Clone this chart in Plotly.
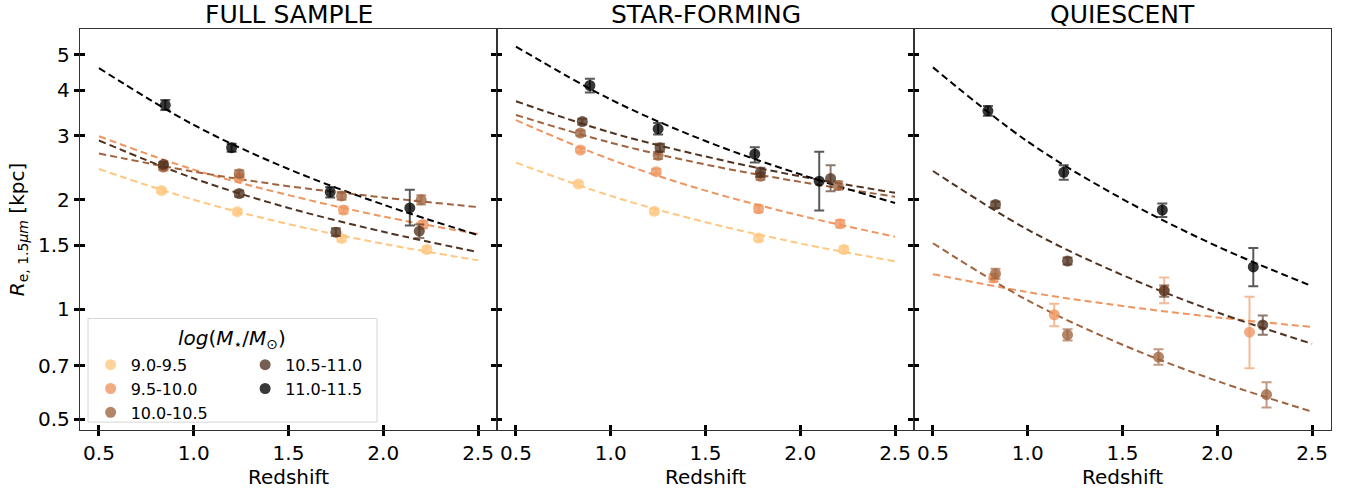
import plotly.graph_objects as go

# ---------------- data ----------------
bins = ["9.0-9.5", "9.5-10.0", "10.0-10.5", "10.5-11.0", "11.0-11.5"]
colors = ["rgb(255,199,127)", "rgb(239,149,95)", "rgb(159,100,63)", "rgb(80,50,32)", "rgb(0,0,0)"]
err_colors = ["rgba(255,199,127,0.65)", "rgba(239,149,95,0.65)", "rgba(159,100,63,0.65)",
              "rgba(80,50,32,0.65)", "rgba(0,0,0,0.65)"]
panel_titles = ["FULL SAMPLE", "STAR-FORMING", "QUIESCENT"]

fit_z = [0.5, 1.0, 1.5, 2.0, 2.5]

# FULL SAMPLE
full_z = [[0.83, 1.23, 1.78, 2.23], [0.84, 1.24, 1.79, 2.21], [0.84, 1.24, 1.78, 2.20],
          [0.84, 1.24, 1.75, 2.19], [0.85, 1.20, 1.72, 2.14]]
full_r = [[2.12, 1.855, 1.567, 1.46], [2.47, 2.30, 1.875, 1.71], [2.46, 2.36, 2.05, 2.00],
          [2.50, 2.08, 1.63, 1.64], [3.64, 2.78, 2.10, 1.90]]
full_elo = [[0.03, 0.03, 0.03, 0.03], [0.04, 0.04, 0.04, 0.04], [0.05, 0.05, 0.05, 0.06],
            [0.04, 0.04, 0.04, 0.07], [0.11, 0.07, 0.07, 0.20]]
full_ehi = [[0.03, 0.03, 0.03, 0.03], [0.04, 0.04, 0.04, 0.04], [0.05, 0.05, 0.05, 0.06],
            [0.04, 0.04, 0.04, 0.07], [0.12, 0.07, 0.07, 0.23]]
full_fit = [[2.43, 2.00, 1.715, 1.515, 1.364], [2.99, 2.42, 2.06, 1.80, 1.61],
            [2.68, 2.39, 2.18, 2.03, 1.91], [2.91, 2.29, 1.90, 1.634, 1.437],
            [4.60, 3.21, 2.43, 1.94, 1.60]]

# STAR-FORMING
sf_z = [[0.83, 1.23, 1.78, 2.23], [0.84, 1.24, 1.78, 2.21], [0.84, 1.25, 1.79, 2.20],
        [0.85, 1.26, 1.79, 2.16], [0.89, 1.25, 1.76, 2.10]]
sf_r = [[2.21, 1.86, 1.57, 1.46], [2.74, 2.39, 1.89, 1.72], [3.05, 2.65, 2.32, 2.19],
        [3.28, 2.78, 2.38, 2.29], [4.12, 3.13, 2.67, 2.25]]
sf_elo = [[0.03, 0.03, 0.03, 0.03], [0.04, 0.04, 0.04, 0.04], [0.05, 0.06, 0.05, 0.06],
          [0.06, 0.07, 0.07, 0.18], [0.18, 0.11, 0.14, 0.38]]
sf_ehi = [[0.03, 0.03, 0.03, 0.03], [0.04, 0.04, 0.04, 0.04], [0.05, 0.06, 0.05, 0.06],
          [0.06, 0.07, 0.07, 0.20], [0.18, 0.12, 0.12, 0.46]]
sf_fit = [[2.53, 2.05, 1.736, 1.518, 1.355], [3.31, 2.58, 2.12, 1.81, 1.584],
          [3.42, 2.87, 2.50, 2.24, 2.04], [3.73, 3.06, 2.63, 2.32, 2.09],
          [5.27, 3.77, 2.90, 2.35, 1.96]]

# QUIESCENT (no 9.0-9.5 bin)
q_z = [None, [0.82, 1.14, 1.72, 2.17], [0.83, 1.21, 1.69, 2.26],
       [0.83, 1.21, 1.72, 2.24], [0.79, 1.19, 1.71, 2.19]]
q_r = [None, [1.22, 0.967, 1.13, 0.866], [1.254, 0.852, 0.74, 0.584],
       [1.94, 1.358, 1.124, 0.907], [3.51, 2.38, 1.875, 1.308]]
q_elo = [None, [0.03, 0.068, 0.09, 0.176], [0.04, 0.03, 0.035, 0.046],
         [0.04, 0.03, 0.04, 0.055], [0.11, 0.11, 0.08, 0.15]]
q_ehi = [None, [0.03, 0.069, 0.093, 0.218], [0.04, 0.03, 0.037, 0.047],
         [0.04, 0.03, 0.04, 0.055], [0.11, 0.11, 0.08, 0.167]]
q_fit = [None, [1.25, 1.116, 1.022, 0.951, 0.895], [1.52, 1.059, 0.80, 0.636, 0.524],
         [2.40, 1.656, 1.243, 0.982, 0.805], [4.62, 2.89, 2.01, 1.49, 1.159]]

x_ticks = [0.5, 1.0, 1.5, 2.0, 2.5]
x_ticktext = ["0.5", "1.0", "1.5", "2.0", "2.5"]
y_ticks = [0.5, 0.7, 1, 1.5, 2, 3, 4, 5]
y_ticktext = ["0.5", "0.7", "1", "1.5", "2", "3", "4", "5"]

# ---------------- figure ----------------
FONT = "DejaVu Sans"
fig = go.Figure()

panels = [
    (full_z, full_r, full_elo, full_ehi, full_fit),
    (sf_z, sf_r, sf_elo, sf_ehi, sf_fit),
    (q_z, q_r, q_elo, q_ehi, q_fit),
]
legend_of = ["legend", "legend", "legend", "legend2", "legend2"]

for p, (zz, rr, elo, ehi, fit) in enumerate(panels):
    xa = "x" if p == 0 else f"x{p+1}"
    ya = "y" if p == 0 else f"y{p+1}"
    for i in range(len(bins)):
        if zz[i] is None:
            continue
        fig.add_trace(go.Scatter(
            x=fit_z, y=fit[i], mode="lines", line=dict(color=colors[i], width=2, dash="7px,4px",
                                                       shape="spline", smoothing=1.0),
            xaxis=xa, yaxis=ya, showlegend=False, hoverinfo="skip"))
    for i in range(len(bins)):
        if zz[i] is None:
            continue
        fig.add_trace(go.Scatter(
            x=zz[i], y=rr[i], mode="markers", name=bins[i],
            marker=dict(color=colors[i], size=11, opacity=0.78, line=dict(width=0)),
            error_y=dict(type="data", array=ehi[i], arrayminus=elo[i], symmetric=False,
                         color=err_colors[i], thickness=2, width=5),
            xaxis=xa, yaxis=ya, showlegend=(p == 0), legend=legend_of[i]))

axis_line = dict(showline=True, linecolor="#333333", linewidth=1.3, mirror=True,
                 showgrid=False, zeroline=False)
tick_common = dict(ticks="outside", ticklen=5, tickwidth=3, tickcolor="black")

layout = dict(
    width=1359, height=495,
    margin=dict(l=80, r=28, t=29, b=60),
    plot_bgcolor="white", paper_bgcolor="white",
    font=dict(family=FONT, color="black"),
)
doms = [[0, 1/3], [1/3, 2/3], [2/3, 1]]
for p in range(3):
    xk = "xaxis" if p == 0 else f"xaxis{p+1}"
    yk = "yaxis" if p == 0 else f"yaxis{p+1}"
    layout[xk] = dict(domain=doms[p], range=[0.4, 2.6], anchor="y" if p == 0 else f"y{p+1}",
                      tickmode="array", tickvals=x_ticks, ticktext=x_ticktext,
                      tickfont=dict(size=20, family=FONT),
                      title=dict(text="Redshift", font=dict(size=20, family=FONT), standoff=4),
                      minor=dict(ticks="inside", tickmode="array", tickvals=x_ticks,
                                 ticklen=5, tickwidth=3, tickcolor="black"),
                      **axis_line, **tick_common)
    layout[yk] = dict(domain=[0, 1], type="log", range=[-0.331, 0.770],
                      anchor="x" if p == 0 else f"x{p+1}",
                      tickmode="array", tickvals=y_ticks, ticktext=y_ticktext,
                      tickfont=dict(size=20, family=FONT), showticklabels=(p == 0),
                      minor=dict(ticks="inside", tickmode="array", tickvals=y_ticks,
                                 ticklen=5, tickwidth=3, tickcolor="black"),
                      **axis_line, **tick_common)
layout["yaxis"]["title"] = dict(text="<i>R</i><sub>e, 1.5<i>μm</i></sub> [kpc]",
                                font=dict(size=20, family=FONT), standoff=8)

# legends (two columns inside a common box)
layout["legend"] = dict(x=0.0085, y=0.205, xanchor="left", yanchor="top",
                        bgcolor="rgba(0,0,0,0)", borderwidth=0,
                        font=dict(size=16, family=FONT), tracegroupgap=0)
layout["legend2"] = dict(x=0.132, y=0.205, xanchor="left", yanchor="top",
                         bgcolor="rgba(0,0,0,0)", borderwidth=0,
                         font=dict(size=16, family=FONT), tracegroupgap=0)
fig.update_layout(**layout)

fig.add_shape(type="rect", xref="paper", yref="paper", x0=0.0064, x1=0.2374, y0=0.0197, y1=0.2781,
              fillcolor="rgba(255,255,255,0.85)", line=dict(color="#d6d6d6", width=1), layer="above")
fig.add_annotation(text="<i>log</i>(<i>M</i><sub>⋆</sub>/<i>M</i><sub>⊙</sub>)",
                   xref="paper", yref="paper", x=0.1219, y=0.228, showarrow=False,
                   xanchor="center", yanchor="middle", font=dict(size=20, family=FONT))

for p in range(3):
    fig.add_annotation(text=panel_titles[p], xref="paper", yref="paper",
                       x=(doms[p][0] + doms[p][1]) / 2, y=1, xanchor="center", yanchor="bottom",
                       yshift=-2, showarrow=False, font=dict(size=25, family=FONT))

fig.write_html("out.html")
